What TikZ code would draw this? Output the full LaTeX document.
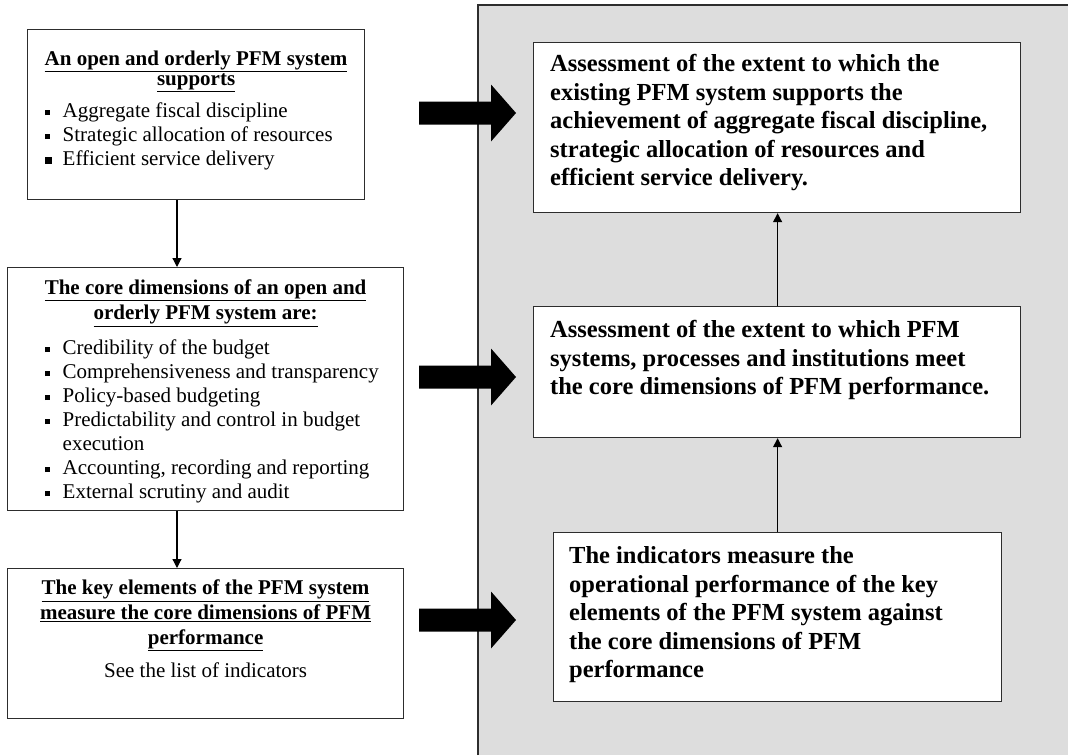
\documentclass[tikz,border=0pt]{standalone}
\usepackage{fontspec}
\setmainfont{Liberation Serif}
\usepackage{tikz}
\usetikzlibrary{arrows.meta,positioning,calc}
\definecolor{panelgrey}{RGB}{221,221,221}
\definecolor{edgegrey}{RGB}{45,45,45}
\newcommand{\sqbullet}{\makebox[17.5pt][l]{\rule[2.5pt]{5pt}{5pt}}}
\newcommand{\bigsqbullet}{\makebox[17.5pt][l]{\rule[2pt]{6.5pt}{6.5pt}}}

\begin{document}
\begin{tikzpicture}[x=1pt,y=-1pt,>=Latex,
  pfmbox/.style={draw=edgegrey,line width=1.2pt,fill=white,anchor=north west,inner sep=0pt},
  headtext/.style={anchor=north,align=center,inner sep=0pt,font=\fontsize{21}{25}\selectfont\bfseries},
  listtext/.style={anchor=north west,align=left,inner sep=0pt,font=\fontsize{21}{24}\selectfont},
  claimtext/.style={anchor=north west,align=left,inner sep=0pt,font=\fontsize{24.5}{28.5}\selectfont\bfseries},
  flow/.style={-{Triangle[length=9pt,width=9pt]},line width=1.2pt}]
\useasboundingbox (0,0) rectangle (1068,755);
\fill[white] (0,0) rectangle (1068,755);
% grey panel on the right
\fill[panelgrey] (478,5) rectangle (1068,755);
\draw[edgegrey,line width=1.2pt] (478,755) |- (1068,5);

% left column
\node[pfmbox,minimum width=337pt,minimum height=170pt] (aims) at (27,29) {};
\node[headtext,font=\fontsize{21}{20}\selectfont\bfseries,below=21.8pt of aims.north] (aimshead) {\underline{An open and orderly PFM system}\\\underline{supports}};
\node[listtext,below right=73.7pt and 18pt of aims.north west] (aimslist) {\sqbullet Aggregate fiscal discipline\\\sqbullet Strategic allocation of resources\\\bigsqbullet Efficient service delivery};

\node[pfmbox,minimum width=396pt,minimum height=243pt] (core) at (7,267) {};
\node[headtext,below=12.8pt of core.north] (corehead) {\underline{The core dimensions of an open and}\\\underline{orderly PFM system are:}};
\node[listtext,below right=72.7pt and 38pt of core.north west] (corelist) {\sqbullet Credibility of the budget\\\sqbullet Comprehensiveness and transparency\\\sqbullet Policy-based budgeting\\\sqbullet Predictability and control in budget\\\hspace*{17.5pt}execution\\\sqbullet Accounting, recording and reporting\\\sqbullet External scrutiny and audit};

\node[pfmbox,minimum width=396pt,minimum height=150pt] (keyel) at (7,568) {};
\node[headtext,below=11.8pt of keyel.north] (keyelhead) {\underline{The key elements of the PFM system}\\\underline{measure the core dimensions of PFM}\\\underline{performance}\\[8pt]\mdseries See the list of indicators};

% right column
\node[pfmbox,minimum width=487pt,minimum height=170pt] (assessaims) at (533,42) {};
\node[claimtext,below right=12.3pt and 17pt of assessaims.north west] (assessaimstext) {Assessment of the extent to which the\\existing PFM system supports the\\achievement of aggregate fiscal discipline,\\strategic allocation of resources and\\efficient service delivery.};

\node[pfmbox,minimum width=487pt,minimum height=131pt] (assesscore) at (533,306) {};
\node[claimtext,below right=14.3pt and 17pt of assesscore.north west] (assesscoretext) {Assessment of the extent to which PFM\\systems, processes and institutions meet\\the core dimensions of PFM performance.};

\node[pfmbox,minimum width=448pt,minimum height=169pt] (indicators) at (553,532) {};
\node[claimtext,below right=14.3pt and 16pt of indicators.north west] (indicatorstext) {The indicators measure the\\operational performance of the key\\elements of the PFM system against\\the core dimensions of PFM\\performance};

% thin connectors
\coordinate (spine) at (177,0);
\draw[flow] (aims.south -| spine) -- (core.north -| spine);
\draw[flow] (core.south -| spine) -- (keyel.north -| spine);
\draw[flow] (indicators.north) -- (assesscore.south -| indicators.north);
\draw[flow] (assesscore.north -| indicators.north) -- (assessaims.south -| indicators.north);

% block arrows into the panel
\coordinate (push1) at (419,113);
\coordinate (push2) at (419,377);
\coordinate (push3) at (419,620);
\foreach \p in {push1,push2,push3}
  \fill (\p) ++(0,-11.5) -- ++(72,0) -- ++(0,-17) -- ++(25,28.5) -- ++(-25,28.5) -- ++(0,-17) -- ++(-72,0) -- cycle;
\end{tikzpicture}
\end{document}
